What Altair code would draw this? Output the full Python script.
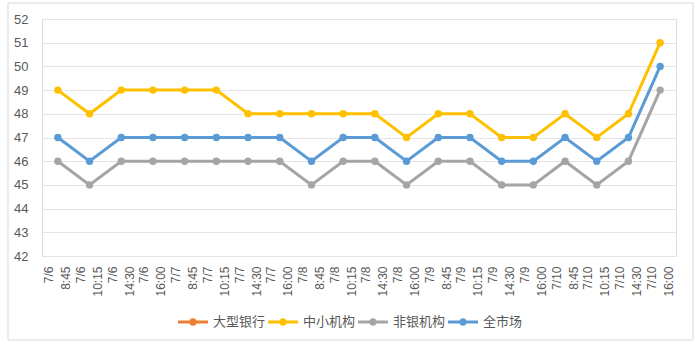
import altair as alt
import pandas as pd

# ---- data ----
labels = ["7/6 8:45", "7/6 10:15", "7/6 14:30", "7/6 16:00",
          "7/7 8:45", "7/7 10:15", "7/7 14:30", "7/7 16:00",
          "7/8 8:45", "7/8 10:15", "7/8 14:30", "7/8 16:00",
          "7/9 8:45", "7/9 10:15", "7/9 14:30", "7/9 16:00",
          "7/10 8:45", "7/10 10:15", "7/10 14:30", "7/10 16:00"]
series_names = ["大型银行", "中小机构", "非银机构", "全市场"]
small_mid = [49, 48, 49, 49, 49, 49, 48, 48, 48, 48, 48, 47, 48, 48, 47, 47, 48, 47, 48, 51]
non_bank = [46, 45, 46, 46, 46, 46, 46, 46, 45, 46, 46, 45, 46, 46, 45, 45, 46, 45, 46, 49]
whole_market = [47, 46, 47, 47, 47, 47, 47, 47, 46, 47, 47, 46, 47, 47, 46, 46, 47, 46, 47, 50]
colors = ["#ED7D31", "#FFC000", "#A5A5A5", "#5B9BD5"]

rows = []
for name, vals in [("中小机构", small_mid), ("非银机构", non_bank), ("全市场", whole_market)]:
    for i, (lab, v) in enumerate(zip(labels, vals)):
        rows.append({"t": lab, "series": name, "value": v, "order": series_names.index(name)})
df = pd.DataFrame(rows)

FONT = "Liberation Sans, Arial, Noto Sans CJK SC"
GRAY_TXT = "#595959"

x_enc = alt.X("t:N", sort=labels, title=None,
              scale=alt.Scale(type="point", padding=0.5),
              axis=alt.Axis(labelAngle=270, labelExpr="split(datum.value, ' ')",
                            labelLineHeight=17, labelFontSize=12, labelColor=GRAY_TXT,
                            labelFont=FONT, ticks=False, domain=False, grid=False,
                            labelPadding=10, labelAlign="right", labelBaseline="middle",
                            labelOffset=-9))
y_enc = alt.Y("value:Q", title=None,
              scale=alt.Scale(domain=[42, 52], nice=False, zero=False),
              axis=alt.Axis(values=list(range(42, 53)), ticks=False, domain=False,
                            gridColor="#e4e4e4", gridWidth=1, labelFontSize=13,
                            labelColor=GRAY_TXT, labelFont=FONT, labelPadding=14))

legend_symbol = ("M-1,-0.1 L1,-0.1 L1,0.1 L-1,0.1 Z "
                 "M-0.25,0 A0.25,0.25 0 1,1 0.25,0 A0.25,0.25 0 1,1 -0.25,0 Z")

color_enc = alt.Color("series:N", sort=series_names,
                      scale=alt.Scale(domain=series_names, range=colors),
                      legend=alt.Legend(title=None, orient="none", direction="horizontal",
                                        legendX=136, legendY=288, symbolType=legend_symbol,
                                        symbolSize=900, symbolStrokeWidth=0,
                                        labelFont=FONT, labelFontSize=13, labelColor=GRAY_TXT,
                                        labelOffset=5, columnPadding=2, padding=0))

points = alt.Chart(df).mark_point(filled=True, size=55, opacity=1).encode(
    x=x_enc, y=y_enc, color=color_enc, order="order:Q")
lines = alt.Chart(df).mark_line(strokeWidth=3).encode(
    x=x_enc, y=y_enc, color=color_enc, detail="series:N")

frame = alt.Chart(pd.DataFrame({"a": [0]})).mark_rect(
    fill=None, stroke="#d9d9d9", strokeWidth=1).encode(
    x=alt.value(-34), x2=alt.value(651), y=alt.value(-16), y2=alt.value(321))

chart = alt.layer(frame, points, lines).properties(
    width=634, height=237,
    padding={"left": 42, "top": 19, "right": 24, "bottom": 94},
    autosize=alt.AutoSizeParams(type="none"),
).configure_view(stroke=None).configure(background="white")

chart.save("out.html", embed_options={"renderer": "svg", "actions": False})
